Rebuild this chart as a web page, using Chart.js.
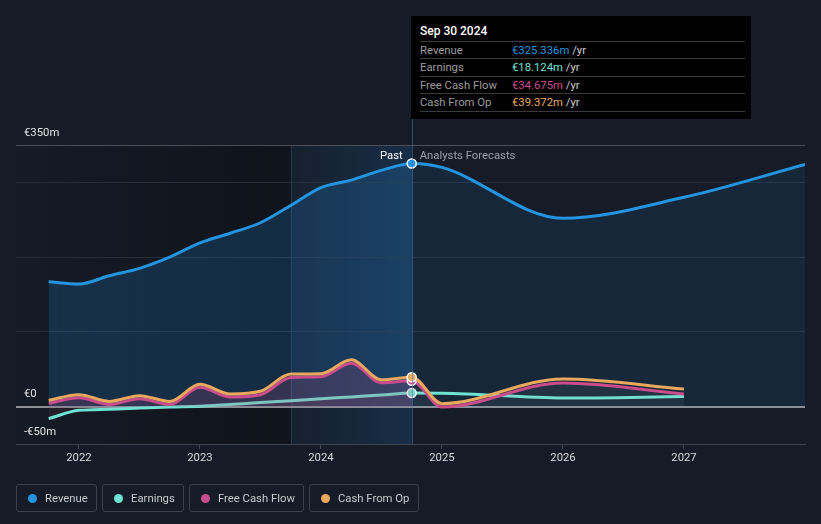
<!DOCTYPE html>
<html>
<head>
<meta charset="utf-8">
<script src="https://cdn.jsdelivr.net/npm/chart.js@4.4.0/dist/chart.umd.min.js"></script>
<style>
  body { margin: 0; background: #161c27; font-family: Roboto, "Noto Sans", sans-serif; }
  #wrap { position: relative; width: 821px; height: 524px; overflow: hidden; }
  #chart { position: absolute; left: 0; top: 0; }
  .tip { position: absolute; left: 411px; top: 16px; width: 340px; height: 103px; background: #000; }
  .tip .title { position: absolute; left: 9px; top: 8px; color: #fff; font-size: 12px; font-weight: 500; }
  .tip .row { position: absolute; left: 9px; width: 325px; height: 17px; border-top: 1px solid #3a3a3a; font-size: 11.3px; line-height: 17px; }
  .tip .row.last { border-bottom: 1px solid #3a3a3a; }
  .tip .lbl { position: absolute; left: 0; color: #9b9b9b; }
  .tip .val { position: absolute; left: 92px; }
  .tip .yr { color: #cfcfcf; }
  .legend { position: absolute; left: 16px; top: 484px; display: flex; gap: 5px; }
  .legend .item { box-sizing: border-box; height: 28px; border: 1px solid #3b414b; border-radius: 3px; padding: 0 0 0 11px; display: flex; align-items: center; color: #c8cacd; font-size: 11.3px; white-space: nowrap; }
  .legend .dot { width: 9px; height: 9px; border-radius: 50%; margin-right: 8px; flex: none; }
</style>
</head>
<body>
<div id="wrap">
  <canvas id="chart" width="821" height="524"></canvas>
  <div class="tip">
    <div class="title">Sep 30 2024</div>
    <div class="row" style="top:25px"><span class="lbl">Revenue</span><span class="val"><span style="color:#2394df">€325.336m</span> <span class="yr">/yr</span></span></div>
    <div class="row" style="top:42px"><span class="lbl">Earnings</span><span class="val"><span style="color:#6fe3d3">€18.124m</span> <span class="yr">/yr</span></span></div>
    <div class="row" style="top:60px"><span class="lbl">Free Cash Flow</span><span class="val"><span style="color:#c94c8c">€34.675m</span> <span class="yr">/yr</span></span></div>
    <div class="row last" style="top:77px"><span class="lbl">Cash From Op</span><span class="val"><span style="color:#e8a95c">€39.372m</span> <span class="yr">/yr</span></span></div>
  </div>
  <div class="legend">
    <div class="item" style="width:81px"><span class="dot" style="background:#2394df"></span>Revenue</div>
    <div class="item" style="width:82px"><span class="dot" style="background:#6fe3d3"></span>Earnings</div>
    <div class="item" style="width:115px"><span class="dot" style="background:#c94c8c"></span>Free Cash Flow</div>
    <div class="item" style="width:110px"><span class="dot" style="background:#e8a95c"></span>Cash From Op</div>
  </div>
</div>
<script>
// values in € millions, x in fractional years
const pastDates = [2021.75, 2022.0, 2022.25, 2022.5, 2022.75, 2023.0, 2023.25, 2023.5, 2023.75, 2024.0, 2024.25, 2024.5, 2024.75];
const revenuePast = [167, 164, 175, 185, 200, 219, 232, 246, 269, 293, 303, 316, 325.3];
const earningsPast = [-16, -5, -3.5, -2, -0.5, 0.5, 3, 5.5, 8, 10.5, 13, 15.5, 18.1];
const fcfPast = [4.5, 12, 3, 10.5, 3, 26, 13, 16, 39, 40, 58, 32, 34.7];
const cfoPast = [8.5, 16, 7, 14.7, 7, 30, 17, 20.5, 43.5, 44, 62.7, 36, 39.4];

const forecastDates = [2025, 2026, 2027, 2028];
const revenueForecast = [320, 252, 280, 324];
const earningsForecast = [18, 11.5, 13.5];
const fcfForecast = [-0.5, 31.5, 17];
const cfoForecast = [4, 37, 23.5];

const yearTicks = [2022, 2023, 2024, 2025, 2026, 2027];
const valueTicks = [-50, 0, 100, 200, 300, 350];
const labelledTicks = { '350': '€350m', '0': '€0', '-50': '-€50m' };

const nowX = 2024.75;
const bandStart = 2023.75;

function series(past, fc) {
    const pts = past.map((v, i) => ({ x: pastDates[i], y: v }));
    fc.forEach((v, i) => pts.push({ x: forecastDates[i], y: v }));
    return pts;
}

// fill colour switches at the "now" line
function splitFill(pastCol, fcCol) {
    return ctx => {
        const chart = ctx.chart;
        const area = chart.chartArea;
        if (!area) return fcCol;
        const xs = chart.scales.x;
        const p = (xs.getPixelForValue(nowX) - area.left) / (area.right - area.left);
        const g = chart.ctx.createLinearGradient(area.left, 0, area.right, 0);
        g.addColorStop(0, pastCol);
        g.addColorStop(Math.min(1, Math.max(0, p)), pastCol);
        g.addColorStop(Math.min(1, Math.max(0, p + 0.0001)), fcCol);
        g.addColorStop(1, fcCol);
        return g;
    };
}

const pointAtNow = ctx => (ctx.raw && ctx.raw.x === nowX ? 4.5 : 0);

const backdrop = {
    id: 'backdrop',
    beforeDraw(chart) {
        const { ctx, chartArea: a, scales: { x } } = chart;
        const bx = x.getPixelForValue(bandStart);
        const nx = x.getPixelForValue(nowX);
        ctx.save();
        // darker past region
        let g = ctx.createLinearGradient(a.left, 0, bx, 0);
        g.addColorStop(0, 'rgba(8,10,14,0.05)');
        g.addColorStop(1, 'rgba(8,10,14,0.45)');
        ctx.fillStyle = g;
        ctx.fillRect(a.left, a.top, bx - a.left, a.bottom - a.top);
        // last-year highlight band
        g = ctx.createLinearGradient(bx, 0, nx, 0);
        g.addColorStop(0, 'rgba(30,110,180,0.06)');
        g.addColorStop(1, 'rgba(30,120,200,0.2)');
        ctx.fillStyle = g;
        ctx.fillRect(bx, a.top, nx - bx, a.bottom - a.top);
        ctx.strokeStyle = 'rgba(60,100,140,0.35)';
        ctx.lineWidth = 1;
        ctx.beginPath();
        ctx.moveTo(Math.round(bx) + 0.5, a.top);
        ctx.lineTo(Math.round(bx) + 0.5, a.bottom);
        ctx.stroke();
        ctx.restore();
    },
    afterDatasetsDraw(chart) {
        const { ctx, chartArea: a, scales: { x } } = chart;
        const nx = x.getPixelForValue(nowX);
        ctx.save();
        ctx.strokeStyle = 'rgba(70,120,170,0.55)';
        ctx.lineWidth = 1;
        ctx.beginPath();
        ctx.moveTo(Math.round(nx) + 0.5, 119);
        ctx.lineTo(Math.round(nx) + 0.5, a.bottom);
        ctx.stroke();
        ctx.font = '11.3px Roboto, sans-serif';
        ctx.textBaseline = 'middle';
        ctx.textAlign = 'right';
        ctx.fillStyle = '#ffffff';
        ctx.fillText('Past', nx - 9, 156);
        ctx.textAlign = 'left';
        ctx.fillStyle = '#9aa0a8';
        ctx.fillText('Analysts Forecasts', nx + 8, 156);
        ctx.restore();
    }
};

new Chart(document.getElementById('chart'), {
    type: 'line',
    data: {
        datasets: [
            {
                label: 'Cash From Op',
                data: series(cfoPast, cfoForecast),
                borderColor: '#e8a95c',
                backgroundColor: '#e8a95c',
                borderWidth: 3,
                fill: false,
                pointRadius: pointAtNow,
                pointBorderColor: '#ffffff',
                pointBorderWidth: 1.5
            },
            {
                label: 'Free Cash Flow',
                data: series(fcfPast, fcfForecast),
                borderColor: '#c94c8c',
                backgroundColor: splitFill('rgba(190,80,130,0.2)', 'rgba(170,170,185,0.08)'),
                pointBackgroundColor: '#c94c8c',
                borderWidth: 3,
                fill: 'origin',
                pointRadius: pointAtNow,
                pointBorderColor: '#ffffff',
                pointBorderWidth: 1.5
            },
            {
                label: 'Earnings',
                data: series(earningsPast, earningsForecast),
                borderColor: '#6fe3d3',
                backgroundColor: splitFill('rgba(150,60,80,0.12)', 'rgba(0,0,0,0)'),
                pointBackgroundColor: '#6fe3d3',
                borderWidth: 3,
                fill: 'origin',
                pointRadius: pointAtNow,
                pointBorderColor: '#ffffff',
                pointBorderWidth: 1.5
            },
            {
                label: 'Revenue',
                data: series(revenuePast, revenueForecast),
                borderColor: '#2394df',
                backgroundColor: splitFill('rgba(35,140,225,0.2)', 'rgba(35,140,225,0.1)'),
                pointBackgroundColor: '#2394df',
                borderWidth: 3,
                fill: 'origin',
                pointRadius: pointAtNow,
                pointBorderColor: '#ffffff',
                pointBorderWidth: 1.5
            }
        ]
    },
    options: {
        responsive: false,
        animation: false,
        cubicInterpolationMode: 'monotone',
        layout: { padding: { left: 16, right: 16, top: 145, bottom: 58 } },
        plugins: { legend: { display: false }, tooltip: { enabled: false } },
        scales: {
            x: {
                type: 'linear',
                min: 2021.48,
                max: 2028,
                afterBuildTicks: s => { s.ticks = yearTicks.map(v => ({ value: v })); },
                afterFit: s => { s.height = 22; },
                grid: { drawOnChartArea: false, tickLength: 5, color: '#3e4450' },
                border: { color: '#3e4450', width: 1 },
                ticks: { autoSkip: false, maxRotation: 0, color: '#d8dadd', font: { family: 'Roboto', size: 11.3 }, padding: 2, callback: v => String(v) }
            },
            y: {
                min: -50,
                max: 350,
                afterBuildTicks: s => { s.ticks = valueTicks.map(v => ({ value: v })); },
                afterFit: s => { s.width = 0; },
                border: { display: false },
                grid: {
                    drawTicks: false,
                    color: ctx => {
                        const v = ctx.tick && ctx.tick.value;
                        if (v === 0) return '#8c9096';
                        if (v === 350) return '#4a4f58';
                        if (v === -50) return 'rgba(0,0,0,0)';
                        return '#252d39';
                    },
                    lineWidth: ctx => (ctx.tick && ctx.tick.value === 0 ? 2 : 1)
                },
                ticks: {
                    mirror: true,
                    padding: 8,
                    labelOffset: -12,
                    color: '#e2e4e6',
                    font: { family: 'Roboto', size: 11.3 },
                    callback: v => labelledTicks[String(v)] || ''
                }
            }
        }
    },
    plugins: [backdrop]
});
</script>
</body>
</html>
